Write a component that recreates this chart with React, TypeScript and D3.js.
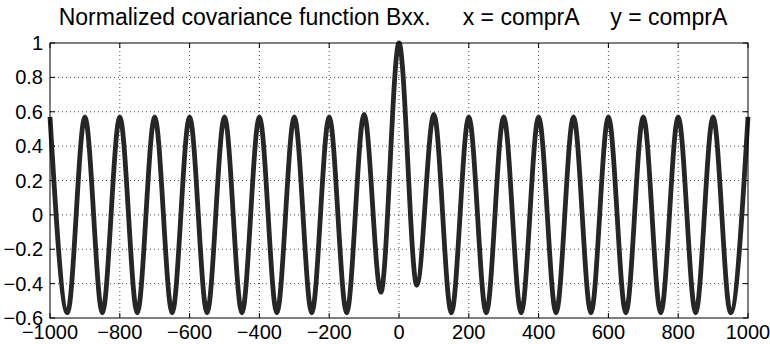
import React from "react";
import * as d3 from "d3";

// Lags at the extrema of the normalized covariance function
const lags = [
  -1000, -950, -900, -850, -800, -750, -700, -650, -600, -550, -500, -450, -400, -350, -300, -250, -200, -150,
  -100, -52, 0, 51, 100,
  150, 200, 250, 300, 350, 400, 450, 500, 550, 600, 650, 700, 750, 800, 850, 900, 950, 1000,
];
const bxx = [
  0.57, -0.57, 0.57, -0.57, 0.57, -0.57, 0.57, -0.57, 0.57, -0.57, 0.57, -0.57, 0.57, -0.57, 0.57, -0.57, 0.57, -0.57,
  0.585, -0.45, 1.0, -0.41, 0.585,
  -0.57, 0.57, -0.57, 0.57, -0.57, 0.57, -0.57, 0.57, -0.57, 0.57, -0.57, 0.57, -0.57, 0.57, -0.57, 0.57, -0.57, 0.57,
];

const xTicks = [-1000, -800, -600, -400, -200, 0, 200, 400, 600, 800, 1000];
const xTickLabels = ["−1000", "−800", "−600", "−400", "−200", "0", "200", "400", "600", "800", "1000"];
const yTicks = [-0.6, -0.4, -0.2, 0, 0.2, 0.4, 0.6, 0.8, 1];
const yTickLabels = ["−0.6", "−0.4", "−0.2", "0", "0.2", "0.4", "0.6", "0.8", "1"];

const titleText = "Normalized covariance function Bxx.     x = comprA     y = comprA";

export default function App() {
  const W = 770, H = 344;
  const L = 50, R = 748, T = 43, B = 318;
  const x = d3.scaleLinear().domain([-1000, 1000]).range([L, R]);
  const y = d3.scaleLinear().domain([-0.6, 1]).range([B, T]);
  const pts = lags.map((l, i) => [l, bxx[i]] as [number, number]);
  const line = d3
    .line<[number, number]>()
    .x((d) => x(d[0]))
    .y((d) => y(d[1]))
    .curve(d3.curveMonotoneX);
  const font = "'Liberation Sans', Arial, Helvetica, sans-serif";
  const tk = 5;
  return (
    <svg
      width={W}
      height={H}
      style={{ position: "absolute", left: 0, top: 0, background: "#fff" }}
      fontFamily={font}
    >
      <rect x={0} y={0} width={W} height={H} fill="#fff" />
      {/* grid */}
      {xTicks.slice(1, -1).map((t) => (
        <line key={"gx" + t} x1={x(t)} x2={x(t)} y1={T} y2={B} stroke="#444" strokeWidth={1} strokeDasharray="1,3" />
      ))}
      {yTicks.slice(1, -1).map((t) => (
        <line key={"gy" + t} x1={L} x2={R} y1={y(t)} y2={y(t)} stroke="#444" strokeWidth={1} strokeDasharray="1,3" />
      ))}
      {/* ticks */}
      {xTicks.map((t) => (
        <g key={"tx" + t}>
          <line x1={x(t)} x2={x(t)} y1={B} y2={B - tk} stroke="#000" />
          <line x1={x(t)} x2={x(t)} y1={T} y2={T + tk} stroke="#000" />
        </g>
      ))}
      {yTicks.map((t) => (
        <g key={"ty" + t}>
          <line x1={L} x2={L + tk} y1={y(t)} y2={y(t)} stroke="#000" />
          <line x1={R} x2={R - tk} y1={y(t)} y2={y(t)} stroke="#000" />
        </g>
      ))}
      {/* curve */}
      <path d={line(pts) || ""} fill="none" stroke="#262626" strokeWidth={4.8} strokeLinejoin="round" />
      {/* box */}
      <rect x={L} y={T} width={R - L} height={B - T} fill="none" stroke="#000" strokeWidth={1} />
      {/* labels */}
      {xTicks.map((t, i) => (
        <text key={"lx" + t} x={x(t)} y={339} textAnchor="middle" fontSize={20} fill="#000">
          {xTickLabels[i]}
        </text>
      ))}
      {yTicks.map((t, i) => (
        <text key={"ly" + t} x={43} y={y(t)} dy="0.35em" textAnchor="end" fontSize={20} fill="#000">
          {yTickLabels[i]}
        </text>
      ))}
      <text x={393} y={25} textAnchor="middle" fontSize={23} fill="#000" style={{ whiteSpace: "pre" }}>
        {titleText}
      </text>
    </svg>
  );
}
